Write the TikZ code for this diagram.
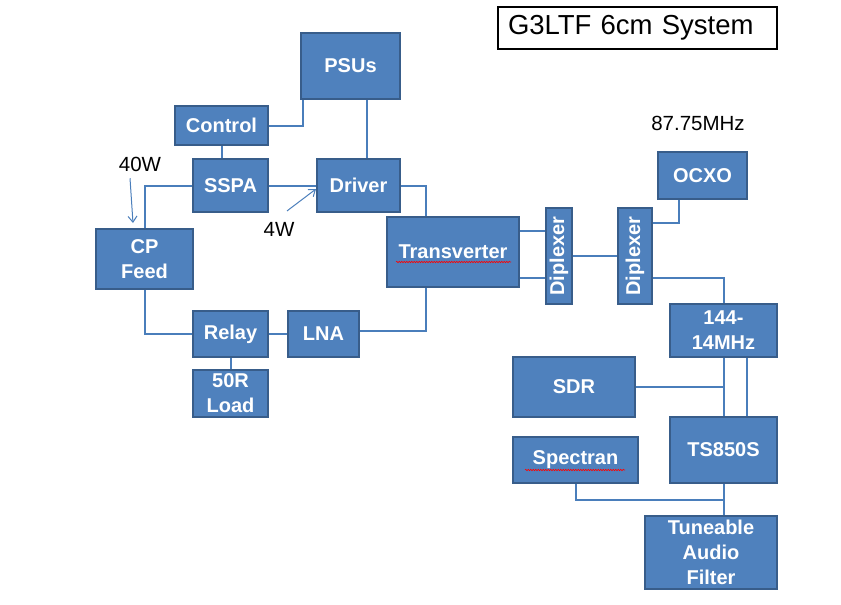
\documentclass[tikz,border=0pt]{standalone}
\usepackage{fontspec}
\setmainfont{Liberation Sans}
\usetikzlibrary{decorations.pathmorphing, arrows.meta}

\definecolor{boxfill}{RGB}{79,129,189}
\definecolor{boxline}{RGB}{56,93,138}
\definecolor{wire}{RGB}{74,126,187}

\begin{document}
\begin{tikzpicture}[x=1pt, y=-1pt, line width=2pt,
  box/.style={draw=boxline, fill=boxfill, text=white, inner sep=0pt,
    font=\fontsize{20}{25}\selectfont\bfseries, align=center},
  wirel/.style={draw=wire},
  pointer/.style={draw=wire, line width=1pt, -{Straight Barb[length=6pt, width=9pt]}},
  lbl/.style={inner sep=0pt, font=\fontsize{20.5}{25}\selectfont},
  spell/.style={draw=red, line width=0.6pt, decorate,
    decoration={snake, amplitude=0.7pt, segment length=2.5pt}}]

  \useasboundingbox (0,0) rectangle (841,605);

  \node[draw=black, line width=1.5pt, fill=white, inner xsep=10pt, inner ysep=0pt,
    text width=259pt, minimum height=42pt, align=left,
    font=\fontsize{27.5}{30}\selectfont] (title) at (637.5,28) {G3LTF 6cm System};

  \node[box, minimum width=99, minimum height=66] (psu) at (350.5,66) {PSUs};
  \node[box, minimum width=93, minimum height=39] (control) at (221.5,125.5) {Control};
  \node[box, minimum width=75, minimum height=53] (sspa) at (230.5,185.5) {SSPA};
  \node[box, minimum width=83, minimum height=53] (driver) at (358.5,185.5) {Driver};
  \node[box, minimum width=97, minimum height=60] (cpfeed) at (144.5,259) {CP\\Feed};
  \node[box, minimum width=75, minimum height=46] (relay) at (230.5,334) {Relay};
  \node[box, minimum width=75, minimum height=47] (load) at (230.5,393.5) {50R\\Load};
  \node[box, minimum width=71, minimum height=46] (lna) at (323.5,334) {LNA};
  \node[box, minimum width=132, minimum height=70] (trans) at (453,252) {Transverter};
  \node[box, minimum width=26, minimum height=96] (dipa) at (559,256) {\rotatebox{90}{Diplexer}};
  \node[box, minimum width=34, minimum height=96] (dipb) at (635,256) {\rotatebox{90}{Diplexer}};
  \node[box, minimum width=89, minimum height=47] (ocxo) at (702.5,175.5) {OCXO};
  \node[box, minimum width=107, minimum height=53] (conv) at (723.5,330.5) {144-\\14MHz};
  \node[box, minimum width=122, minimum height=60] (sdr) at (574,387) {SDR};
  \node[box, minimum width=107, minimum height=66] (ts) at (723.5,450) {TS850S};
  \node[box, minimum width=125, minimum height=46] (spec) at (575.5,460) {Spectran};
  \node[box, minimum width=132, minimum height=73] (filt) at (711,552.5) {Tuneable\\Audio\\Filter};

  \node[lbl] (w40) at (140,164) {40W};
  \node[lbl] (w4) at (279,229) {4W};
  \node[lbl] (freq) at (698,123) {87.75MHz};

  \draw[spell] (396,262) -- (511,262);
  \draw[spell] (525,470) -- (625,470);

  \draw[wirel] (control.east) -| ([xshift=3pt]psu.south west);
  \draw[wirel] ([xshift=16pt]psu.south) -- ([xshift=8pt]driver.north);
  \draw[wirel] (control.south) -- (control.south |- sspa.north);
  \draw[wirel] (sspa.east) -- (driver.west);
  \draw[wirel] (sspa.west) -| (cpfeed.north);
  \draw[wirel] (driver.east) -| ([xshift=-27pt]trans.north);
  \draw[wirel] (cpfeed.south) |- (relay.west);
  \draw[wirel] (relay.east) -- (lna.west);
  \draw[wirel] (relay.south) -- (load.north);
  \draw[wirel] ([yshift=3pt]lna.east) -| ([xshift=-27pt]trans.south);

  \draw[pointer] ([xshift=-10pt, yshift=-6pt]w40.south) -- ([xshift=-11.5pt, yshift=5pt]cpfeed.north);
  \draw[pointer] ([xshift=8pt, yshift=10pt]w4.north) -- ([yshift=-3.5pt]driver.west);

  \draw[wirel] ([yshift=21pt]trans.east) -- ([yshift=21pt]trans.east -| dipa.west);
  \draw[wirel] ([yshift=-26pt]trans.east) -- ([yshift=-26pt]trans.east -| dipa.west);
  \draw[wirel] (dipa.east) -- (dipb.west);
  \draw[wirel] ([yshift=33pt]dipb.east) -| ([xshift=-23.5pt]ocxo.south);
  \draw[wirel] ([yshift=-22pt]dipb.east) -| (conv.north);

  \draw[wirel] (conv.south) -- (ts.north);
  \draw[wirel] ([xshift=23pt]conv.south) -- ([xshift=23pt]ts.north);
  \draw[wirel] (sdr.east) -- (sdr.east -| ts.north);
  \draw[wirel] (ts.south) -- (ts.south |- filt.north);
  \draw[wirel] (spec.south) |- ([yshift=-16pt]ts.south);

\end{tikzpicture}
\end{document}
